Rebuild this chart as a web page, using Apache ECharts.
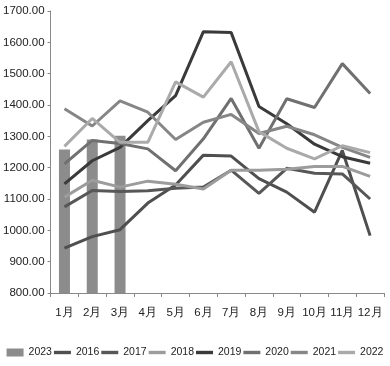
<!DOCTYPE html>
<html><head><meta charset="utf-8">
<script src="https://cdn.jsdelivr.net/npm/echarts@6/dist/echarts.min.js"></script>
<style>html,body{margin:0;padding:0;background:#fff}#c{width:390px;height:366px}</style>
</head><body><div id="c"></div>
<script>
const categories = ['1月','2月','3月','4月','5月','6月','7月','8月','9月','10月','11月','12月'];
const s2023 = [1258, 1290, 1302];
const s2016 = [943, 980, 1002, 1087, 1145, 1240, 1237, 1165, 1122, 1058, 1255, 983];
const s2017 = [1075, 1127, 1124, 1126, 1134, 1138, 1192, 1118, 1198, 1182, 1180, 1100];
const s2018 = [1106, 1160, 1138, 1157, 1147, 1132, 1192, 1192, 1195, 1204, 1204, 1172];
const s2019 = [1148, 1222, 1265, 1350, 1430, 1634, 1631, 1395, 1340, 1275, 1235, 1214];
const s2020 = [1212, 1287, 1277, 1260, 1190, 1292, 1421, 1262, 1420, 1392, 1532, 1437];
const s2021 = [1388, 1333, 1413, 1377, 1290, 1345, 1370, 1309, 1332, 1305, 1265, 1233];
const s2022 = [1268, 1357, 1281, 1281, 1474, 1425, 1538, 1315, 1262, 1228, 1270, 1248];
const yTicks = {min: 800, max: 1700, interval: 100};

const FONT = "'Liberation Sans', Arial, sans-serif";
const lineDefs = [
  ['2016', s2016, '#4f4f4f'],
  ['2017', s2017, '#575757'],
  ['2018', s2018, '#9c9c9c'],
  ['2019', s2019, '#3a3a3a'],
  ['2020', s2020, '#707070'],
  ['2021', s2021, '#868686'],
  ['2022', s2022, '#aaaaaa']
];
const LINE_ICON = 'path://M0,0 L20,0 L20,4 L0,4 Z';
const series = [{
  name: '2023', type: 'bar', data: s2023, barWidth: 11,
  itemStyle: {color: '#8c8c8c'}
}].concat(lineDefs.map(d => ({
  name: d[0], type: 'line', data: d[1], symbol: 'none', smooth: false,
  lineStyle: {width: 3, color: d[2]}, itemStyle: {color: d[2]}
})));

const chart = echarts.init(document.getElementById('c'), null, {renderer: 'canvas'});
chart.setOption({
  animation: false,
  textStyle: {fontFamily: FONT},
  grid: {left: 47, right: 6, top: 11, bottom: 73},
  legend: {
    bottom: 3, left: 'center', itemWidth: 17, itemHeight: 8, itemGap: 2,
    symbolKeepAspect: true,
    textStyle: {fontFamily: FONT, fontSize: 10.5, color: '#222'},
    data: [{name: '2023', icon: 'rect'}].concat(lineDefs.map(d => ({name: d[0], icon: LINE_ICON})))
  },
  xAxis: {
    type: 'category', data: categories, boundaryGap: true,
    axisLine: {lineStyle: {color: '#888', width: 1}},
    axisTick: {show: true, length: 4, lineStyle: {color: '#888'}},
    axisLabel: {margin: 14, fontSize: 11.5, color: '#222', fontFamily: FONT, interval: 0}
  },
  yAxis: {
    type: 'value', min: yTicks.min, max: yTicks.max, interval: yTicks.interval,
    axisLine: {show: true, lineStyle: {color: '#888', width: 1}},
    axisTick: {show: true, length: 3, lineStyle: {color: '#888'}},
    splitLine: {show: false},
    axisLabel: {margin: 6, fontSize: 11.5, color: '#222', fontFamily: FONT,
      formatter: v => v.toFixed(2)}
  },
  series: series
});
</script></body></html>
